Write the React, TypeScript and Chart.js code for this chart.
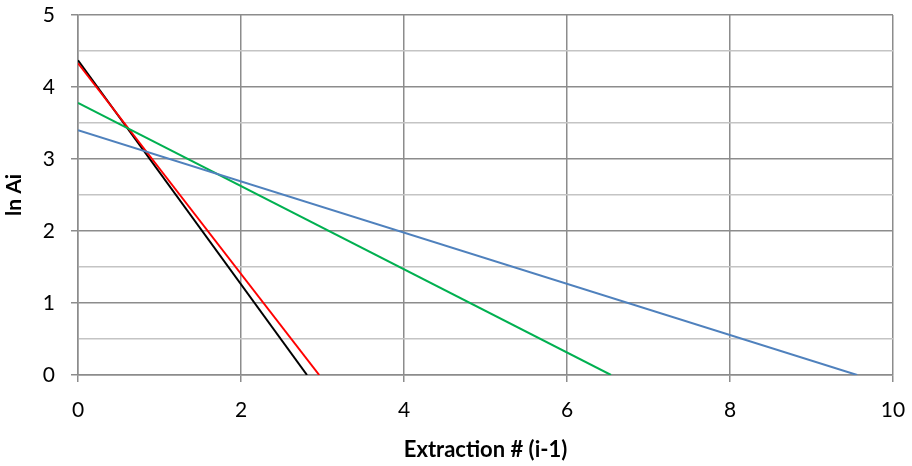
import React, { useEffect, useRef } from "react";
import { Chart, registerables } from "chart.js";

Chart.register(...registerables);

const blueX = [0, 9.56];
const blueY = [3.4, 0];
const greenX = [0, 6.54];
const greenY = [3.78, 0];
const redX = [0, 2.96];
const redY = [4.33, 0];
const blackX = [0, 2.81];
const blackY = [4.37, 0];

const xTitle = "Extraction # (i-1)";
const yTitle = "ln Ai";

const toPts = (xs: number[], ys: number[]) => xs.map((x, i) => ({ x, y: ys[i] }));

export default function App() {
  const ref = useRef<HTMLCanvasElement | null>(null);
  useEffect(() => {
    if (!ref.current) return;
    const font = "Lato, 'Open Sans', sans-serif";
    const mk = (label: string, xs: number[], ys: number[], color: string) => ({
      label,
      data: toPts(xs, ys),
      borderColor: color,
      backgroundColor: color,
      borderWidth: 2,
      pointRadius: 0,
      showLine: true,
      fill: false,
    });
    const chart = new Chart(ref.current, {
      type: "scatter",
      data: {
        datasets: [
          mk("blue", blueX, blueY, "#4F81BD"),
          mk("green", greenX, greenY, "#00B050"),
          mk("red", redX, redY, "#FF0000"),
          mk("black", blackX, blackY, "#000000"),
        ],
      },
      options: {
        animation: false,
        responsive: false,
        maintainAspectRatio: false,
        layout: { padding: { left: 0, right: 19, top: 15, bottom: 0 } },
        plugins: { legend: { display: false }, tooltip: { enabled: false } },
        scales: {
          x: {
            type: "linear",
            min: 0,
            max: 10,
            ticks: { stepSize: 2, color: "#000", font: { family: font, size: 21 }, padding: 16 },
            grid: { color: "#8c8c8c", lineWidth: 1.5, tickLength: 7, tickColor: "#8c8c8c" },
            border: { color: "#8c8c8c", width: 1.5 },
            title: {
              display: true,
              text: xTitle,
              color: "#000",
              font: { family: font, size: 22, weight: "bold" },
              padding: { top: 4, bottom: 3 },
            },
            afterFit: (s: any) => {
              s.height = 91;
              s.paddingLeft = 0;
              s.paddingRight = 0;
            },
          },
          y: {
            type: "linear",
            min: 0,
            max: 5,
            ticks: {
              stepSize: 0.5,
              color: "#000",
              font: { family: font, size: 21 },
              padding: 16,
              callback: (v: any) => (Number.isInteger(v) ? String(v) : ""),
            },
            grid: {
              color: (c: any) => (Number.isInteger(c.tick?.value) ? "#8c8c8c" : "#c4c4c4"),
              lineWidth: 1.5,
              tickLength: 7,
              tickColor: (c: any) => (Number.isInteger(c.tick?.value) ? "#8c8c8c" : "rgba(0,0,0,0)"),
            },
            border: { color: "#8c8c8c", width: 1.5 },
            title: {
              display: true,
              text: yTitle,
              color: "#000",
              font: { family: font, size: 21, weight: "bold" },
              padding: { top: 2, bottom: 0 },
            },
            afterFit: (s: any) => {
              s.width = 78;
              s.paddingTop = 0;
              s.paddingBottom = 0;
            },
          },
        },
      },
    });
    return () => chart.destroy();
  }, []);
  return (
    <div style={{ position: "fixed", left: 0, top: 0, width: 912, height: 466, background: "#fff" }}>
      <canvas ref={ref} width={912} height={466} style={{ width: 912, height: 466 }} />
    </div>
  );
}
